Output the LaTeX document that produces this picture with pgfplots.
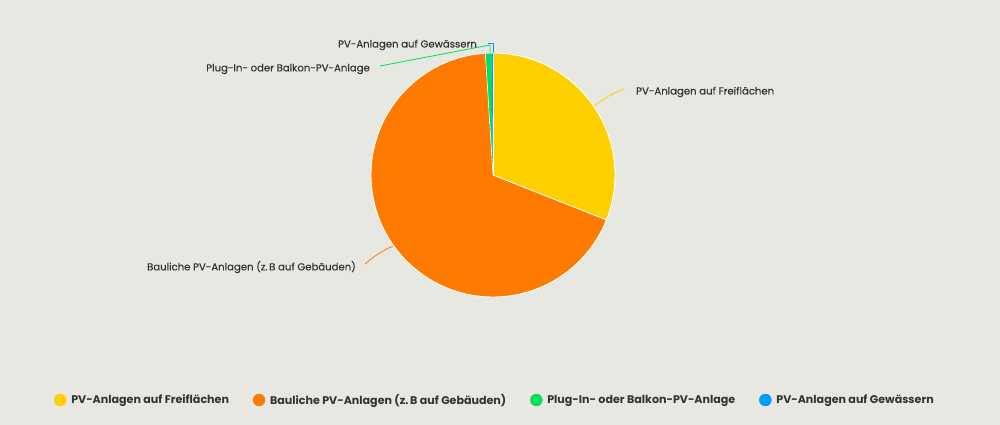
\documentclass[border=0pt]{standalone}
\usepackage{pgfplots}
\pgfplotsset{compat=1.18}
\usepackage{fontspec}
\setmainfont{Poppins}
\newfontfamily\medfont{Poppins}[FakeBold=0.35]
\definecolor{bgc}{HTML}{E8E8E3}
\definecolor{yellowc}{HTML}{FFD000}
\definecolor{orangec}{HTML}{FF7A00}
\definecolor{greenc}{HTML}{00E05A}
\definecolor{bluec}{HTML}{0099FF}
\definecolor{txt}{HTML}{333333}

% shares in percent, clockwise from the top
\def\vA{31.0}
\def\vB{68.0}
\def\vC{0.8}
\def\vD{0.2}
\pgfmathsetmacro\aA{90-3.6*\vA}
\pgfmathsetmacro\aB{\aA-3.6*\vB}
\pgfmathsetmacro\aC{\aB-3.6*\vC}
\pgfmathsetmacro\aD{\aC-3.6*\vD}

\begin{document}
\begin{tikzpicture}
\fill[bgc] (0,0) rectangle (1000pt,425pt);
\begin{axis}[
  at={(0,0)}, anchor=origin,
  width=1000pt, height=425pt, scale only axis,
  xmin=0, xmax=1000, ymin=0, ymax=425,
  hide axis,
  clip=false,
  legend columns=4,
  legend style={draw=none, fill=none, at={(axis cs:495,25)}, anchor=center,
    font=\fontsize{11.1}{13}\selectfont\bfseries\color{txt},
    /tikz/every odd column/.append style={column sep=3pt},
    /tikz/every even column/.append style={column sep=22pt}},
  legend cell align=left,
]
\addlegendimage{only marks, mark=*, mark size=6pt, color=yellowc}
\addlegendentry{PV-Anlagen auf Freiflächen}
\addlegendimage{only marks, mark=*, mark size=6pt, color=orangec}
\addlegendentry{Bauliche PV-Anlagen (z.\,B auf Gebäuden)}
\addlegendimage{only marks, mark=*, mark size=6pt, color=greenc}
\addlegendentry{Plug-In- oder Balkon-PV-Anlage}
\addlegendimage{only marks, mark=*, mark size=6pt, color=bluec}
\addlegendentry{PV-Anlagen auf Gewässern}

\fill[yellowc] (axis cs:493,250) -- ++(90:122pt) arc[start angle=90, end angle=\aA, radius=122pt] -- cycle;
\fill[orangec] (axis cs:493,250) -- ++(\aA:122pt) arc[start angle=\aA, end angle=\aB, radius=122pt] -- cycle;
\fill[greenc] (axis cs:493,250) -- ++(\aB:122pt) arc[start angle=\aB, end angle=\aC, radius=122pt] -- cycle;
\fill[bluec] (axis cs:493,250) -- ++(\aC:122pt) arc[start angle=\aC, end angle=\aD, radius=122pt] -- cycle;
% white slice borders
\draw[white, line width=0.9pt] (axis cs:493,250) -- ++(90:122pt);
\draw[white, line width=0.9pt] (axis cs:493,250) -- ++(\aA:122pt);
\draw[white, line width=0.6pt] (axis cs:493,250) -- ++(\aB:122pt);
\draw[white, line width=0.9pt] (axis cs:493,250) circle[radius=122pt];

% connectors
\draw[yellowc, line width=0.8pt] (axis cs:594,319) to[bend left=8] (axis cs:624,336);
\draw[orangec, line width=0.8pt] (axis cs:393,179) to[bend right=8] (axis cs:365,161);
\draw[greenc, line width=0.8pt] (axis cs:490,372) -- (axis cs:490,380) -- (axis cs:380,359);
\draw[bluec, line width=0.8pt] (axis cs:493,372) -- (axis cs:493,382) -- (axis cs:488,382);

\begin{scope}[every node/.style={font=\fontsize{10.1}{12}\selectfont\medfont, text=txt, inner sep=0pt}]
\node[anchor=west] at (axis cs:636,333) {PV-Anlagen auf Freiflächen};
\node[anchor=east] at (axis cs:356,158) {Bauliche PV-Anlagen (z.\,B auf Gebäuden)};
\node[anchor=east] at (axis cs:370,356) {Plug-In- oder Balkon-PV-Anlage};
\node[anchor=east] at (axis cs:477,380) {PV-Anlagen auf Gewässern};
\end{scope}
\end{axis}
\end{tikzpicture}
\end{document}
